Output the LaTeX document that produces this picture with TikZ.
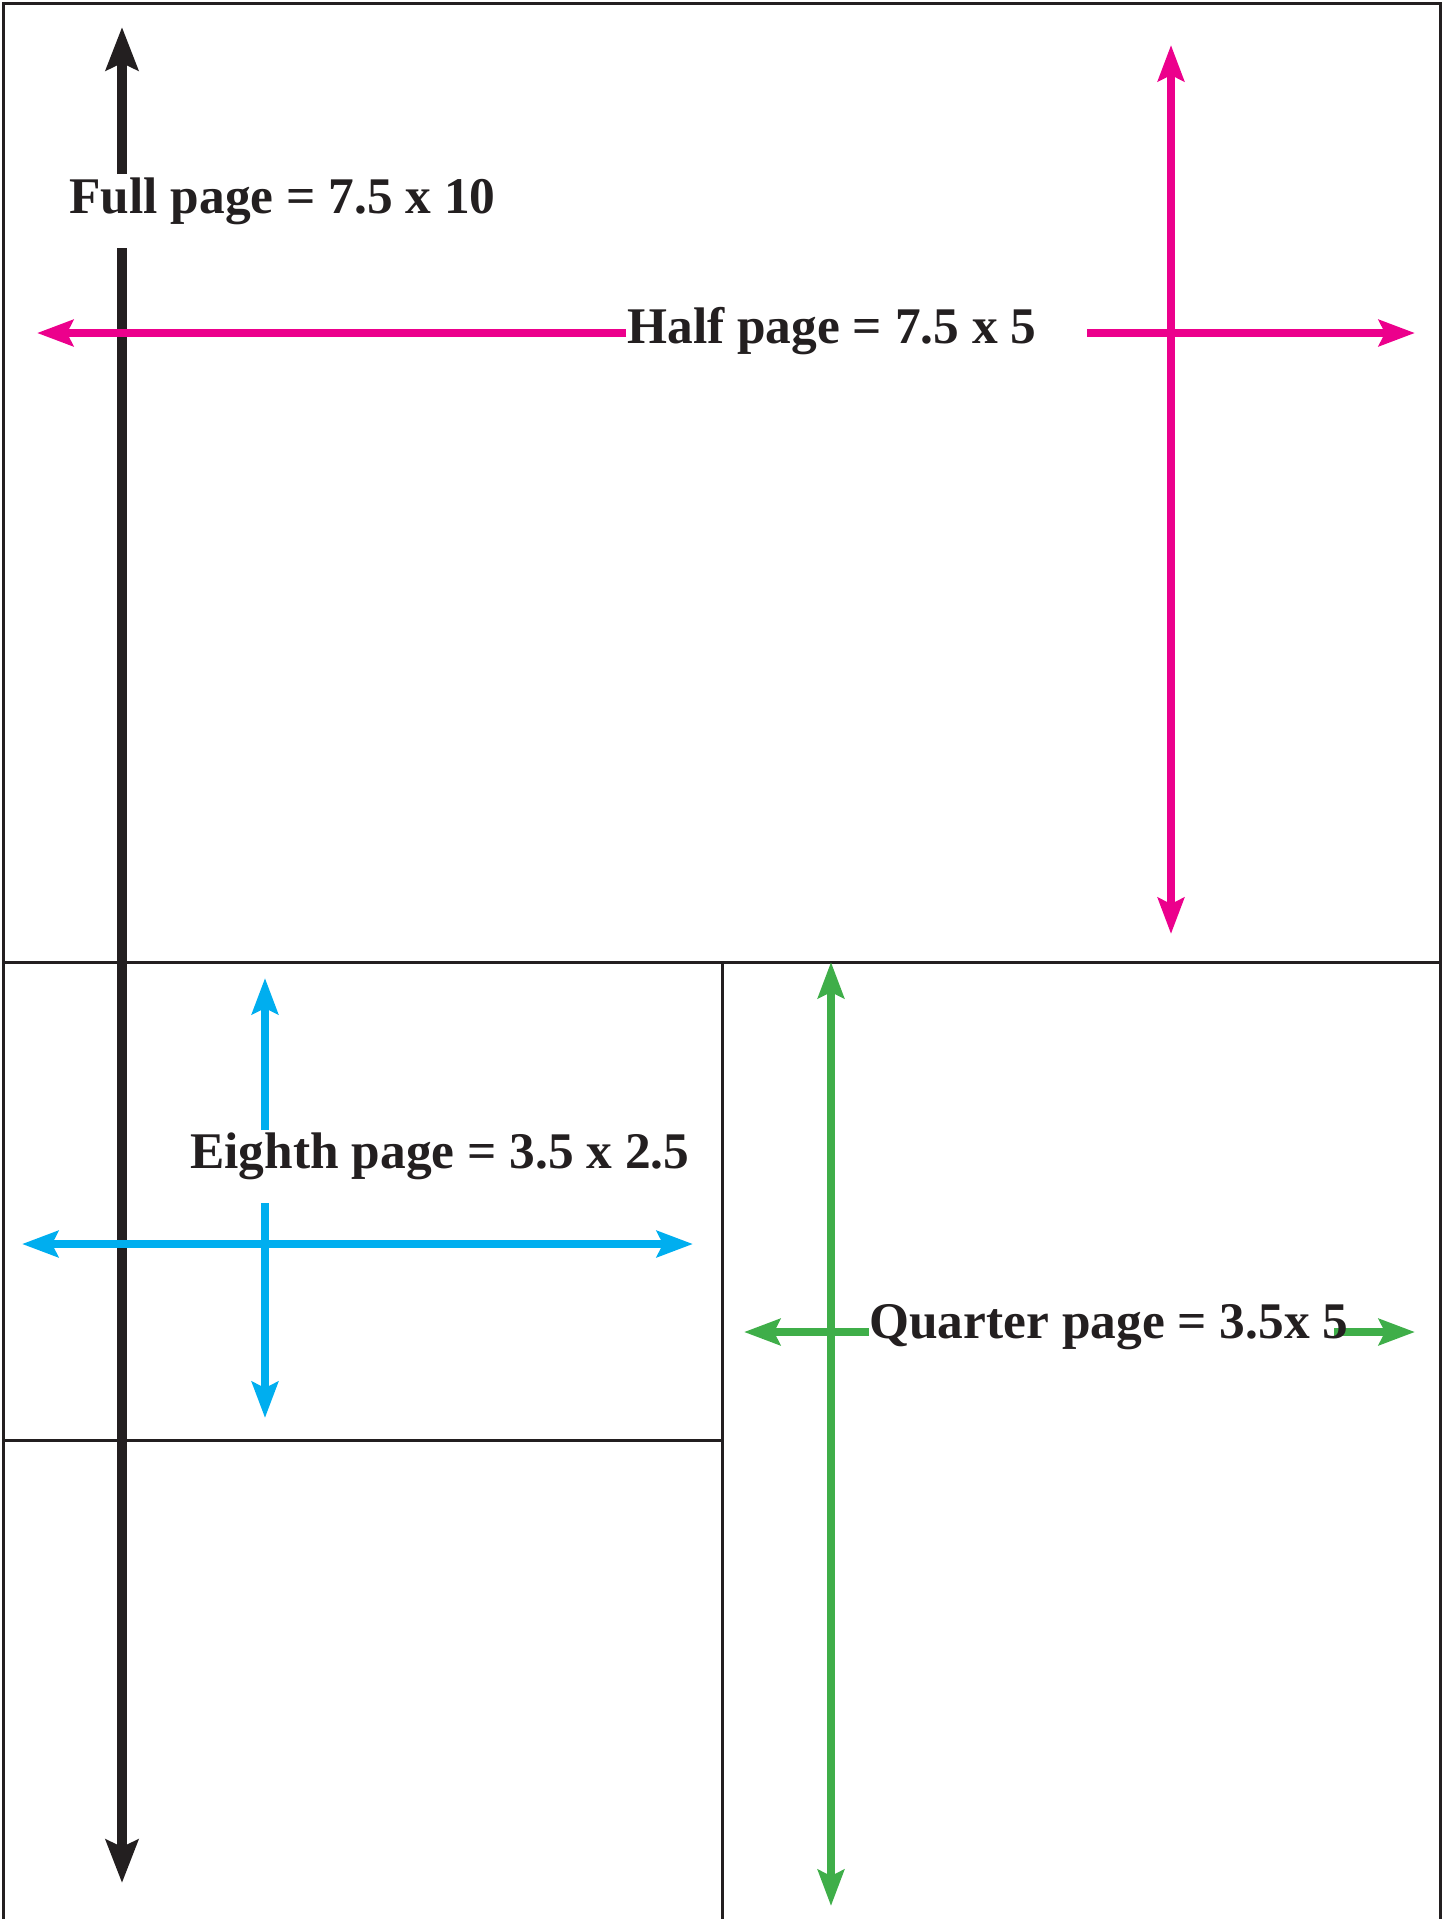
\documentclass[tikz,border=0pt]{standalone}
\usepackage{fontspec}
\setmainfont{Liberation Serif}
\usetikzlibrary{arrows.meta}
\definecolor{ink}{HTML}{231F20}
\definecolor{mag}{HTML}{EC008C}
\definecolor{cyanc}{HTML}{00AEEF}
\definecolor{grn}{HTML}{3FAE49}
\tikzset{
  BT/.tip={Stealth[length=21.5pt,width=16pt,inset=3.5pt]},
  ST/.tip={Stealth[length=18pt,width=13pt,inset=3pt]},
  frame/.style={draw=ink,line width=1.5pt},
  blackdim/.style={draw=ink,line width=5pt},
  magdim/.style={draw=mag,line width=3.8pt},
  cyandim/.style={draw=cyanc,line width=4pt},
  grndim/.style={draw=grn,line width=4pt},
  lbl/.style={font=\fontsize{25.7}{30}\selectfont\bfseries,text=ink,inner sep=0pt,anchor=base west}
}
\begin{document}
\begin{tikzpicture}[x=0.5pt,y=-0.5pt]
\useasboundingbox (0,0) rectangle (1442,1919);
% frames
\coordinate (fbl) at (3,1919);
\coordinate (ftl) at (3,3);
\coordinate (ftr) at (1440,3);
\coordinate (fbr) at (1440,1919);
\coordinate (dl) at (3,962);
\coordinate (dr) at (1440,962);
\coordinate (vt) at (722,962);
\coordinate (vb) at (722,1919);
\coordinate (el) at (3,1440);
\coordinate (er) at (722,1440);
\draw[frame] (fbl) -- (ftl) -- (ftr) -- (fbr);
\draw[frame] (dl) -- (dr);
\draw[frame] (vt) -- (vb);
\draw[frame] (el) -- (er);
% labels
\node[lbl] (full) at (69,213) {Full page = 7.5 x 10};
\node[lbl] (half) at (627,343) {Half page = 7.5 x 5};
\node[lbl] (eighth) at (190,1168) {Eighth page = 3.5 x 2.5};
% black full-page arrow
\coordinate (bt) at (122,27);
\coordinate (bg1) at (122,174);
\coordinate (bg2) at (122,248);
\coordinate (bb) at (122,1883);
\draw[blackdim,-{BT}] (bg1) -- (bt);
\draw[blackdim,-{BT}] (bg2) -- (bb);
% magenta half-page arrows
\coordinate (mh1) at (37,333);
\coordinate (mh2) at (626,333);
\coordinate (mh3) at (1087,333);
\coordinate (mh4) at (1415,333);
\coordinate (mv1) at (1171,45);
\coordinate (mv2) at (1171,934);
\draw[magdim,-{ST}] (mh2) -- (mh1);
\draw[magdim,-{ST}] (mh3) -- (mh4);
\draw[magdim,{ST}-{ST}] (mv1) -- (mv2);
% cyan eighth-page arrows
\coordinate (cv1) at (265,978);
\coordinate (cv2) at (265,1130);
\coordinate (cv3) at (265,1203);
\coordinate (cv4) at (265,1418);
\coordinate (ch1) at (22,1244);
\coordinate (ch2) at (693,1244);
\draw[cyandim,-{ST}] (cv2) -- (cv1);
\draw[cyandim,-{ST}] (cv3) -- (cv4);
\draw[cyandim,{ST}-{ST}] (ch1) -- (ch2);
% green quarter-page arrows
\coordinate (gv1) at (831,962);
\coordinate (gv2) at (831,1906);
\coordinate (gh1) at (744,1332);
\coordinate (gh2) at (869,1332);
\coordinate (gh3) at (1334,1332);
\coordinate (gh4) at (1415,1332);
\draw[grndim,{ST}-{ST}] (gv1) -- (gv2);
\draw[grndim,-{ST}] (gh2) -- (gh1);
\draw[grndim,-{ST}] (gh3) -- (gh4);
\node[lbl] (quarter) at (869,1338) {Quarter page = 3.5x 5};
\end{tikzpicture}
\end{document}
